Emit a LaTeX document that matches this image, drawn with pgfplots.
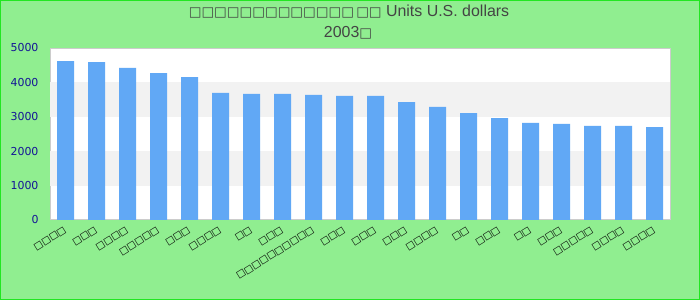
\documentclass[border=0pt]{standalone}
\usepackage{fontspec}
\setmainfont{DejaVu Sans}
\newfontfamily\titlefont{Liberation Sans}
\usepackage{pgfplots}
\pgfplotsset{compat=1.18}
\definecolor{bgGreen}{RGB}{144,238,144}
\definecolor{borderGreen}{RGB}{34,230,34}
\definecolor{barBlue}{RGB}{97,168,245}
\definecolor{bandGray}{RGB}{242,242,242}
\definecolor{axisGray}{RGB}{204,204,204}
\definecolor{tickBlue}{RGB}{20,20,150}
\definecolor{titleGray}{RGB}{68,68,68}
\begin{document}
\begin{tikzpicture}
\fill[bgGreen] (0bp,0bp) rectangle (700bp,300bp);
\draw[borderGreen, line width=1bp] (0.5bp,0.5bp) rectangle (699.5bp,299.5bp);
\node[font=\titlefont\fontsize{16}{19}\selectfont, text=titleGray] at (349bp,288bp) {{\fontspec{DejaVu Sans}\fontsize{13.5}{16}\selectfont □□□□□□□□□□□□□\,□□} Units U.S. dollars};
\node[font=\titlefont\fontsize{16}{19}\selectfont, text=titleGray] at (348bp,267bp) {2003{\fontspec{DejaVu Sans}\fontsize{13.5}{16}\selectfont □}};
\begin{axis}[
  at={(50bp,80bp)}, anchor=south west,
  scale only axis, width=620bp, height=172bp,
  xmin=-0.5, xmax=19.5, ymin=0, ymax=5000,
  ytick={0,1000,2000,3000,4000,5000},
  scaled y ticks=false,
  /pgf/number format/1000 sep={},
  /pgf/number format/assume math mode=true,
  xtick={0,...,19},
  xticklabels={□□□□,□□□,□□□□,□□□□□,□□□,□□□□,□□,□□□,□□□□□□□□□□,□□□,□□□,□□□,□□□□,□□,□□□,□□,□□□,□□□□□,□□□□,□□□□},
  xticklabel style={rotate=32, anchor=north east, font=\fontsize{9.5}{10}\selectfont, text=black, inner sep=1bp, xshift=-4bp, yshift=-3bp},
  yticklabel style={text=tickBlue, font=\fontsize{11}{13}\selectfont, anchor=east, xshift=-8bp},
  major tick length=0pt,
  axis line style={draw=axisGray, line width=1bp},
  axis background/.style={fill=white},
  ybar, bar width=17bp,
]
\fill[bandGray] (axis cs:-0.5,1000) rectangle (axis cs:19.5,2000);
\fill[bandGray] (axis cs:-0.5,3000) rectangle (axis cs:19.5,4000);
\addplot[fill=barBlue, draw=none] coordinates {
(0,4622) (1,4593) (2,4419) (3,4273) (4,4157) (5,3692) (6,3663) (7,3663) (8,3634) (9,3605)
(10,3605) (11,3430) (12,3285) (13,3110) (14,2965) (15,2820) (16,2791) (17,2733) (18,2733) (19,2703)
};
\end{axis}
\end{tikzpicture}
\end{document}
